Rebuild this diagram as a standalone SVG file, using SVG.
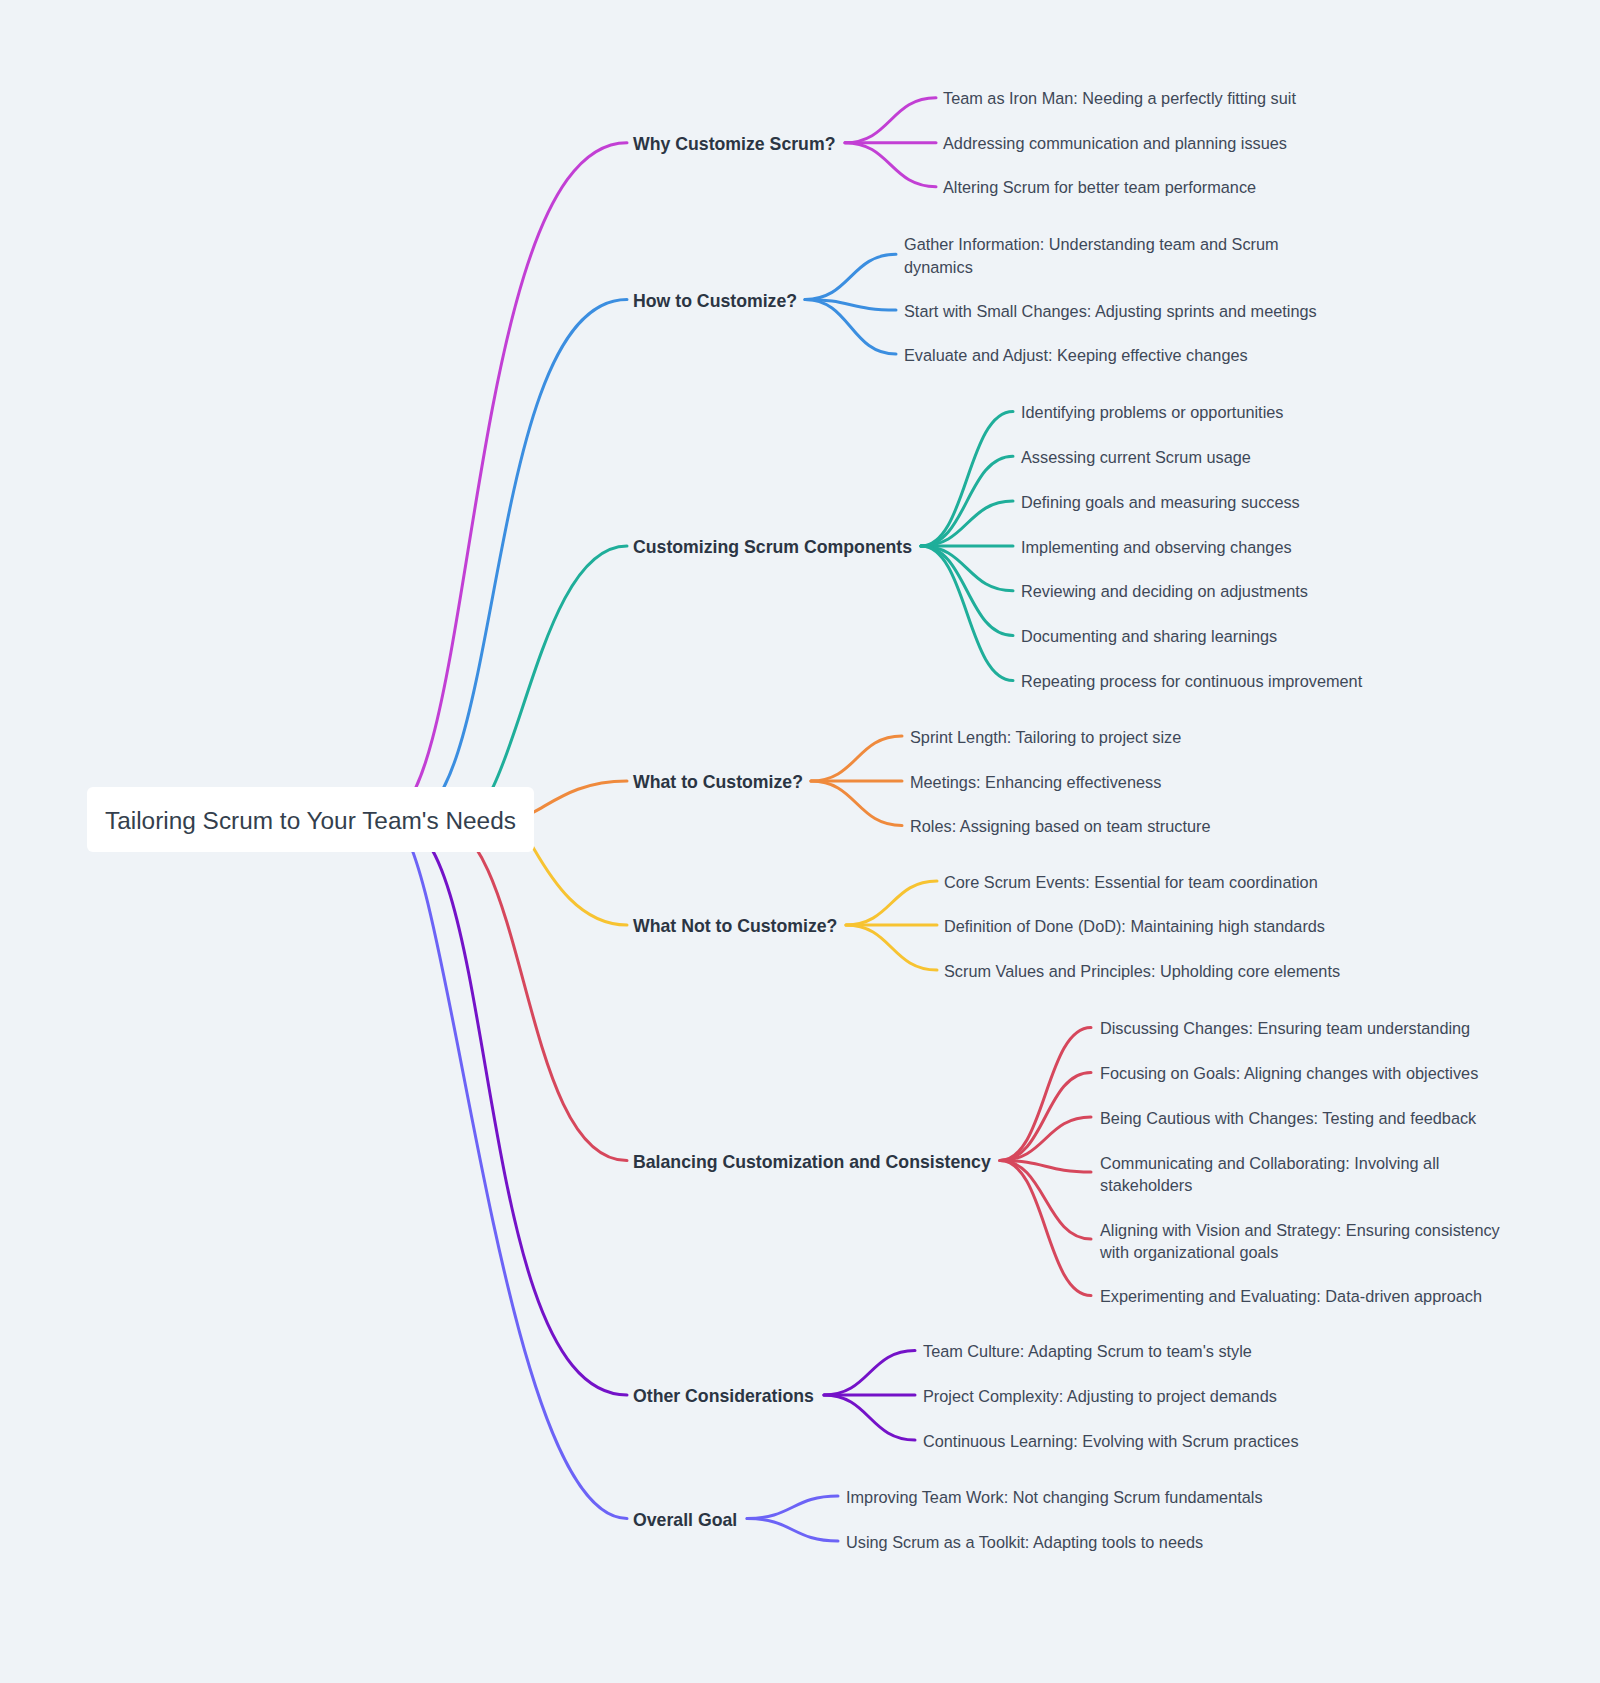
<svg xmlns="http://www.w3.org/2000/svg" width="1600" height="1683" viewBox="0 0 1600 1683">
<style>
.bg{fill:#eff3f7}
.l{fill:none;stroke-width:3;stroke-linecap:round;stroke-linejoin:round}
.c1{stroke:#c23fd4}.c2{stroke:#3b8ee0}.c3{stroke:#1fae9a}.c4{stroke:#ef8a3d}
.c5{stroke:#f7c331}.c6{stroke:#d6475c}.c7{stroke:#7412c8}.c8{stroke:#6c63f6}
text{font-family:"Liberation Sans",Arial,sans-serif}
.root{font-size:24.4px;fill:#343f4d}
.br{font-size:17.7px;font-weight:bold;fill:#2b3543}
.ch{font-size:16.3px;fill:#3e4858}
</style>
<rect class="bg" x="0" y="0" width="1600" height="1683"/>
<g id="connectors">
<path class="l c1" d="M383.3,820 C478.5,820 463,142.7 627,142.7"/>
<path class="l c2" d="M406.2,820 C504.6,820 483.3,299.4 627,299.4"/>
<path class="l c3" d="M460.5,820 C517.1,820 535.4,546 627,546"/>
<path class="l c4" d="M520,820 L534,812 C556,800 580,781 627,781"/>
<path class="l c5" d="M525,834 L534,849 C552,880 580,925 627,925"/>
<path class="l c6" d="M434.8,820 C528.5,820 519.8,1160.5 627,1160.5"/>
<path class="l c7" d="M395.4,820 C501.5,820 470.7,1395 627,1395"/>
<path class="l c8" d="M390.5,820 C449.3,820 497,1518.5 627,1518.5"/>

<path class="l c1" d="M845,142.7 C890.5,142.7 890.5,97.7 936,97.7"/>
<path class="l c1" d="M845,142.7 L936,142.7"/>
<path class="l c1" d="M845,142.7 C890.5,142.7 890.5,186.7 936,186.7"/>

<path class="l c2" d="M805,299.4 C850.5,299.4 850.5,254.3 896,254.3"/>
<path class="l c2" d="M805,299.4 C850.5,299.4 850.5,310.1 896,310.1"/>
<path class="l c2" d="M805,299.4 C850.5,299.4 850.5,354.1 896,354.1"/>

<path class="l c3" d="M921,546 C967,546 967,411.5 1013,411.5"/>
<path class="l c3" d="M921,546 C967,546 967,456.3 1013,456.3"/>
<path class="l c3" d="M921,546 C967,546 967,501.1 1013,501.1"/>
<path class="l c3" d="M921,546 L1013,546"/>
<path class="l c3" d="M921,546 C967,546 967,590.8 1013,590.8"/>
<path class="l c3" d="M921,546 C967,546 967,635.6 1013,635.6"/>
<path class="l c3" d="M921,546 C967,546 967,680.4 1013,680.4"/>

<path class="l c4" d="M811,781 C856.5,781 856.5,736 902,736"/>
<path class="l c4" d="M811,781 L902,781"/>
<path class="l c4" d="M811,781 C856.5,781 856.5,825.5 902,825.5"/>

<path class="l c5" d="M846,925 C891.5,925 891.5,881 937,881"/>
<path class="l c5" d="M846,925 L937,925"/>
<path class="l c5" d="M846,925 C891.5,925 891.5,970 937,970"/>

<path class="l c6" d="M1000,1160.5 C1045.5,1160.5 1045.5,1027.5 1091,1027.5"/>
<path class="l c6" d="M1000,1160.5 C1045.5,1160.5 1045.5,1072.5 1091,1072.5"/>
<path class="l c6" d="M1000,1160.5 C1045.5,1160.5 1045.5,1117 1091,1117"/>
<path class="l c6" d="M1000,1160.5 C1045.5,1160.5 1045.5,1172 1091,1172"/>
<path class="l c6" d="M1000,1160.5 C1045.5,1160.5 1045.5,1239 1091,1239"/>
<path class="l c6" d="M1000,1160.5 C1045.5,1160.5 1045.5,1295.5 1091,1295.5"/>

<path class="l c7" d="M824,1395 C869.5,1395 869.5,1350.5 915,1350.5"/>
<path class="l c7" d="M824,1395 L915,1395"/>
<path class="l c7" d="M824,1395 C869.5,1395 869.5,1440 915,1440"/>

<path class="l c8" d="M747,1518.5 C792.5,1518.5 792.5,1496 838,1496"/>
<path class="l c8" d="M747,1518.5 C792.5,1518.5 792.5,1541 838,1541"/>
</g>

<g id="root">
<rect x="87" y="787" width="447" height="65" rx="6" fill="#ffffff"/>
<text class="root" x="105" y="829">Tailoring Scrum to Your Team's Needs</text>
</g>

<g id="b1"><text class="br" x="633" y="149.9">Why Customize Scrum?</text></g>
<g id="b1-1"><text class="ch" x="943" y="104.3">Team as Iron Man: Needing a perfectly fitting suit</text></g>
<g id="b1-2"><text class="ch" x="943" y="149.3">Addressing communication and planning issues</text></g>
<g id="b1-3"><text class="ch" x="943" y="193.3">Altering Scrum for better team performance</text></g>

<g id="b2"><text class="br" x="633" y="306.6">How to Customize?</text></g>
<g id="b2-1"><text class="ch" x="904" y="250.2">Gather Information: Understanding team and Scrum</text><text class="ch" x="904" y="272.7">dynamics</text></g>
<g id="b2-2"><text class="ch" x="904" y="316.7">Start with Small Changes: Adjusting sprints and meetings</text></g>
<g id="b2-3"><text class="ch" x="904" y="360.7">Evaluate and Adjust: Keeping effective changes</text></g>

<g id="b3"><text class="br" x="633" y="553.2">Customizing Scrum Components</text></g>
<g id="b3-1"><text class="ch" x="1021" y="418.1">Identifying problems or opportunities</text></g>
<g id="b3-2"><text class="ch" x="1021" y="462.9">Assessing current Scrum usage</text></g>
<g id="b3-3"><text class="ch" x="1021" y="507.7">Defining goals and measuring success</text></g>
<g id="b3-4"><text class="ch" x="1021" y="552.6">Implementing and observing changes</text></g>
<g id="b3-5"><text class="ch" x="1021" y="597.4">Reviewing and deciding on adjustments</text></g>
<g id="b3-6"><text class="ch" x="1021" y="642.2">Documenting and sharing learnings</text></g>
<g id="b3-7"><text class="ch" x="1021" y="687">Repeating process for continuous improvement</text></g>

<g id="b4"><text class="br" x="633" y="788.2">What to Customize?</text></g>
<g id="b4-1"><text class="ch" x="910" y="742.6">Sprint Length: Tailoring to project size</text></g>
<g id="b4-2"><text class="ch" x="910" y="787.6">Meetings: Enhancing effectiveness</text></g>
<g id="b4-3"><text class="ch" x="910" y="832.1">Roles: Assigning based on team structure</text></g>

<g id="b5"><text class="br" x="633" y="932.2">What Not to Customize?</text></g>
<g id="b5-1"><text class="ch" x="944" y="887.6">Core Scrum Events: Essential for team coordination</text></g>
<g id="b5-2"><text class="ch" x="944" y="931.6">Definition of Done (DoD): Maintaining high standards</text></g>
<g id="b5-3"><text class="ch" x="944" y="976.6">Scrum Values and Principles: Upholding core elements</text></g>

<g id="b6"><text class="br" x="633" y="1167.7">Balancing Customization and Consistency</text></g>
<g id="b6-1"><text class="ch" x="1100" y="1034.1">Discussing Changes: Ensuring team understanding</text></g>
<g id="b6-2"><text class="ch" x="1100" y="1079.1">Focusing on Goals: Aligning changes with objectives</text></g>
<g id="b6-3"><text class="ch" x="1100" y="1123.6">Being Cautious with Changes: Testing and feedback</text></g>
<g id="b6-4"><text class="ch" x="1100" y="1168.6">Communicating and Collaborating: Involving all</text><text class="ch" x="1100" y="1191">stakeholders</text></g>
<g id="b6-5"><text class="ch" x="1100" y="1235.6">Aligning with Vision and Strategy: Ensuring consistency</text><text class="ch" x="1100" y="1258">with organizational goals</text></g>
<g id="b6-6"><text class="ch" x="1100" y="1302.1">Experimenting and Evaluating: Data-driven approach</text></g>

<g id="b7"><text class="br" x="633" y="1402.2">Other Considerations</text></g>
<g id="b7-1"><text class="ch" x="923" y="1357.1">Team Culture: Adapting Scrum to team's style</text></g>
<g id="b7-2"><text class="ch" x="923" y="1401.6">Project Complexity: Adjusting to project demands</text></g>
<g id="b7-3"><text class="ch" x="923" y="1446.6">Continuous Learning: Evolving with Scrum practices</text></g>

<g id="b8"><text class="br" x="633" y="1525.7">Overall Goal</text></g>
<g id="b8-1"><text class="ch" x="846" y="1502.6">Improving Team Work: Not changing Scrum fundamentals</text></g>
<g id="b8-2"><text class="ch" x="846" y="1547.6">Using Scrum as a Toolkit: Adapting tools to needs</text></g>
</svg>
